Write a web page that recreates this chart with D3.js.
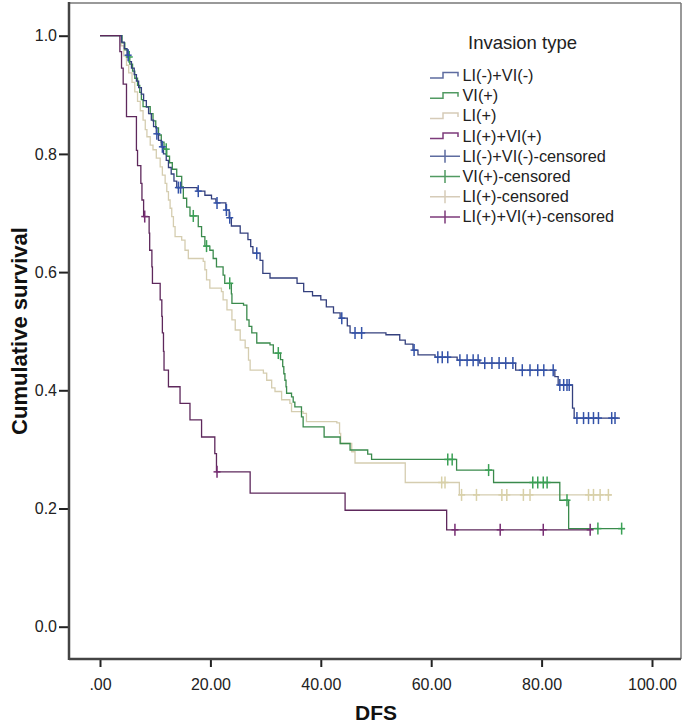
<!DOCTYPE html>
<html><head><meta charset="utf-8">
<script src="https://cdn.jsdelivr.net/npm/d3@7"></script>
<style>body{margin:0;background:#fff}svg{display:block}text{font-family:"Liberation Sans",Arial,sans-serif}</style>
</head><body>
<svg id="c" width="685" height="725"></svg>
<script>
// ---------- data ----------
const groups = ["LI(-)+VI(-)","VI(+)","LI(+)","LI(+)+VI(+)"];
const legendLabels = ["LI(-)+VI(-)","VI(+)","LI(+)","LI(+)+VI(+)","LI(-)+VI(-)-censored","VI(+)-censored","LI(+)-censored","LI(+)+VI(+)-censored"];
const xTicks = [0,20,40,60,80,100];
const xTickLabels = [".00","20.00","40.00","60.00","80.00","100.00"];
const yTicks = [0,0.2,0.4,0.6,0.8,1.0];
const yTickLabels = ["0.0","0.2","0.4","0.6","0.8","1.0"];

// [time, survival after event]
const blueSteps = [[0,1],[3.9,0.989],[4.4,0.978],[4.9,0.967],[5.3,0.956],[5.7,0.945],[6.2,0.934],[6.6,0.923],[7.0,0.912],[7.5,0.901],[7.9,0.890],[8.4,0.879],[8.8,0.868],[9.3,0.857],[9.7,0.846],[10.2,0.834],[10.6,0.823],[11.1,0.812],[11.5,0.800],[12.0,0.789],[12.4,0.777],[12.9,0.766],[13.4,0.754],[13.9,0.743],[17.6,0.737],[19.0,0.730],[20.2,0.724],[21.0,0.717],[22.8,0.705],[23.4,0.692],[23.8,0.678],[25.4,0.666],[26.8,0.655],[27.3,0.643],[27.7,0.632],[29.0,0.620],[29.5,0.598],[30.8,0.590],[35.7,0.581],[36.9,0.567],[38.5,0.560],[40.0,0.553],[41.0,0.541],[42.3,0.531],[43.5,0.522],[44.8,0.509],[45.3,0.497],[51.8,0.494],[54.3,0.485],[55.3,0.478],[56.7,0.468],[57.6,0.460],[60.7,0.456],[64.7,0.451],[68.8,0.446],[75.3,0.434],[82.4,0.423],[83.0,0.409],[85.6,0.370],[85.9,0.353]];
const blueEnd = 94.2;
const blueCensor = [5.1,10.3,11.3,14.2,14.6,17.8,21.2,22.9,23.5,28.4,43.8,46.2,47.4,56.9,61.2,62.0,63.0,65.2,66.5,67.6,68.5,69.7,71.0,72.3,73.5,74.8,76.5,77.9,79.3,80.4,82.1,83.3,84.0,84.6,85.0,86.4,87.6,88.5,89.4,90.3,92.7,93.3];

const greenSteps = [[0,1],[4.0,0.988],[4.5,0.976],[5.0,0.964],[5.4,0.952],[5.9,0.940],[6.3,0.928],[6.8,0.916],[7.2,0.904],[7.5,0.892],[7.8,0.880],[9.1,0.868],[9.6,0.856],[10.1,0.844],[10.6,0.832],[11.1,0.820],[11.6,0.808],[12.1,0.796],[12.6,0.785],[13.1,0.774],[13.9,0.762],[14.8,0.744],[15.1,0.725],[15.7,0.710],[16.3,0.695],[17.8,0.677],[18.4,0.660],[19.0,0.644],[19.9,0.637],[20.5,0.623],[21.1,0.609],[22.3,0.595],[22.6,0.581],[23.8,0.563],[23.9,0.547],[26.0,0.544],[26.6,0.519],[27.0,0.508],[27.5,0.497],[28.4,0.480],[30.8,0.477],[31.4,0.463],[32.7,0.452],[33.1,0.440],[33.3,0.428],[33.5,0.417],[33.7,0.406],[33.8,0.395],[34.7,0.389],[35.0,0.380],[35.3,0.372],[36.5,0.355],[36.8,0.338],[40.6,0.321],[43.5,0.310],[45.3,0.299],[48.5,0.292],[49.2,0.283],[64.6,0.265],[71.3,0.244],[83.3,0.214],[84.9,0.166]];
const greenEnd = 95.1;
const greenCensor = [5.3,12.0,16.9,19.3,23.5,32.3,63.0,63.8,70.4,78.4,79.3,80.3,81.0,84.6,90.2,94.5];

const tanSteps = [[0,1],[3.8,0.983],[4.3,0.966],[4.8,0.950],[5.2,0.937],[5.8,0.921],[6.3,0.905],[6.8,0.889],[7.3,0.873],[7.8,0.857],[8.2,0.841],[8.5,0.829],[9.1,0.815],[9.6,0.807],[10.2,0.793],[10.9,0.778],[11.3,0.764],[11.8,0.750],[12.1,0.736],[12.4,0.722],[12.7,0.708],[13.0,0.694],[13.3,0.677],[13.6,0.660],[14.8,0.654],[15.4,0.637],[16.0,0.623],[18.7,0.618],[19.0,0.604],[19.3,0.587],[19.9,0.573],[22.0,0.567],[22.3,0.553],[23.0,0.536],[23.9,0.519],[24.5,0.502],[25.4,0.485],[26.3,0.472],[26.9,0.451],[27.2,0.434],[29.6,0.429],[30.2,0.417],[31.1,0.404],[31.7,0.398],[32.9,0.384],[34.4,0.378],[34.7,0.364],[36.8,0.361],[37.4,0.347],[42.9,0.345],[43.4,0.327],[43.6,0.310],[45.6,0.296],[46.2,0.277],[55.3,0.244],[65.1,0.223]];
const tanEnd = 92.7;
const tanCensor = [61.9,62.5,65.5,68.2,72.8,73.7,76.7,77.9,88.5,89.4,90.6,92.1];

const purpleSteps = [[0,1],[3.6,0.973],[3.9,0.945],[4.2,0.918],[4.8,0.863],[6.6,0.806],[6.8,0.780],[7.4,0.750],[7.6,0.722],[7.9,0.694],[8.9,0.666],[9.0,0.637],[9.4,0.609],[9.5,0.581],[10.9,0.553],[11.2,0.525],[11.3,0.497],[11.5,0.466],[11.6,0.434],[12.4,0.406],[14.5,0.378],[16.3,0.350],[18.4,0.321],[20.8,0.293],[21.1,0.262],[27.2,0.226],[44.4,0.197],[62.8,0.164]];
const purpleEnd = 88.8;
const purpleCensor = [8.1,21.2,64.3,72.5,80.3,88.8];

// ---------- drawing ----------
const series = [
  {steps: blueSteps, end: blueEnd, cens: blueCensor, line: "#34407e", mark: "#3352a8", leg: "#5e6ca0"},
  {steps: greenSteps, end: greenEnd, cens: greenCensor, line: "#3a8a4c", mark: "#3aa055", leg: "#519a62"},
  {steps: tanSteps, end: tanEnd, cens: tanCensor, line: "#d5cdb0", mark: "#d8d0a8", leg: "#d6cbb8"},
  {steps: purpleSteps, end: purpleEnd, cens: purpleCensor, line: "#5e285c", mark: "#762d72", leg: "#7d3b7b"}
];

const svg = d3.select("#c");
const L = 69, R = 681, T = 3, B = 659;
const x = d3.scaleLinear().domain([0,100]).range([100,652]);
const y = d3.scaleLinear().domain([0,1]).range([626.7,35.7]);

// axes
const xAxis = d3.axisBottom(x).tickValues(xTicks).tickSize(8).tickPadding(12)
  .tickFormat((d,i)=>xTickLabels[i]);
const gx = svg.append("g").attr("transform",`translate(0,${B})`).call(xAxis);
gx.select(".domain").remove();
gx.selectAll(".tick line").attr("stroke","#222").attr("stroke-width",2);
gx.selectAll(".tick text").attr("font-size",16).attr("fill","#222")
  .attr("font-family",'"Liberation Sans",Arial,sans-serif');

const yAxis = d3.axisLeft(y).tickValues(yTicks).tickSize(10).tickPadding(2)
  .tickFormat((d,i)=>yTickLabels[i]);
const gy = svg.append("g").attr("transform",`translate(${L},0)`).call(yAxis);
gy.select(".domain").remove();
gy.selectAll(".tick line").attr("stroke","#222").attr("stroke-width",2);
gy.selectAll(".tick text").attr("font-size",16).attr("fill","#222")
  .attr("font-family",'"Liberation Sans",Arial,sans-serif');

// frame
svg.append("line").attr("x1",L).attr("x2",R).attr("y1",T).attr("y2",T).attr("stroke","#777").attr("stroke-width",1.5);
svg.append("line").attr("x1",R).attr("x2",R).attr("y1",T).attr("y2",B).attr("stroke","#777").attr("stroke-width",1.5);
svg.append("line").attr("x1",L).attr("x2",L).attr("y1",T-1).attr("y2",B+1).attr("stroke","#444").attr("stroke-width",2.5);
svg.append("line").attr("x1",L).attr("x2",R).attr("y1",B).attr("y2",B).attr("stroke","#444").attr("stroke-width",2.5);

// curves
const line = d3.line().x(d=>x(d[0])).y(d=>y(d[1])).curve(d3.curveStepAfter);
function survAt(steps,t){ let s=steps[0][1]; for(const p of steps){ if(p[0]<=t) s=p[1]; } return s; }
const drawOrder = [2,1,0,3];
drawOrder.forEach(i=>{
  const sr = series[i];
  const pts = sr.steps.concat([[sr.end, sr.steps[sr.steps.length-1][1]]]);
  svg.append("path").datum(pts).attr("d",line).attr("fill","none")
    .attr("stroke",sr.line).attr("stroke-width",1.3);
});
drawOrder.forEach(i=>{
  const sr = series[i];
  const g = svg.append("g").attr("stroke",sr.mark).attr("stroke-width",1.5);
  sr.cens.forEach(t=>{
    const cx = x(t), cy = y(survAt(sr.steps,t));
    g.append("line").attr("x1",cx).attr("x2",cx).attr("y1",cy-6).attr("y2",cy+6);
    g.append("line").attr("x1",cx-3.5).attr("x2",cx+3.5).attr("y1",cy).attr("y2",cy);
  });
});

// legend
svg.append("text").attr("x",468).attr("y",48.5).attr("font-size",18.5).attr("fill","#222").text("Invasion type");
legendLabels.forEach((lab,i)=>{
  const by = 81 + i*20.2, cy = by - 5.5;
  const sr = series[i % 4];
  if(i<4){
    svg.append("path").attr("d",`M430,${cy+2.5}H443V${cy-3}H458V${cy+1}`)
      .attr("fill","none").attr("stroke",sr.leg).attr("stroke-width",1.5);
  } else {
    svg.append("path").attr("d",`M430,${cy}H460M445,${cy-6.5}V${cy+6.5}`)
      .attr("fill","none").attr("stroke",sr.leg).attr("stroke-width",1.5);
  }
  svg.append("text").attr("x",462.5).attr("y",by).attr("font-size",16.3).attr("fill","#222").text(lab);
});

// axis titles
svg.append("text").attr("transform","translate(27,331) rotate(-90)").attr("text-anchor","middle")
  .attr("font-size",22).attr("font-weight","bold").attr("fill","#111").text("Cumulative survival");
svg.append("text").attr("x",376).attr("y",720).attr("text-anchor","middle")
  .attr("font-size",21).attr("font-weight","bold").attr("fill","#111").text("DFS");
</script>
</body></html>
